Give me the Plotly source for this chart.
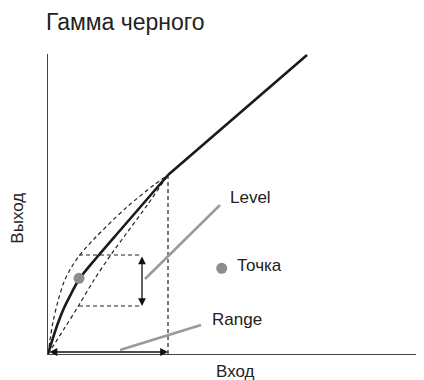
import plotly.graph_objects as go

# ---- data (input / output units, origin at the axes corner) ----
main_curve_x = [0, 4, 10, 16, 23, 31, 50, 75, 120]
main_curve_y = [0, 13, 31, 46, 60, 74.5, 98, 127, 179]
main_line_x = [120, 259]
main_line_y = [179, 299]

upper_x = [0, 2, 5, 10, 16, 23, 31, 47, 79, 106, 120]
upper_y = [0, 14, 32, 53, 72, 86, 98, 116, 147, 169, 179]
lower_x = [0, 16, 31, 46, 62.7, 78, 100, 120]
lower_y = [0, 25, 49, 74, 99, 120, 150, 179]

knee_x = 120
knee_y = 179
box_x = [31, 94]
box_y = [48, 99]
range_y = 2

point_xy = (31, 75.7)
legend_dot_xy = (173.7, 85.7)

level_line_x = [97, 172]
level_line_y = [75, 149]
range_line_x = [72, 153]
range_line_y = [4, 29]

labels = {"level": "Level", "point": "Точка", "range": "Range"}
label_pos = {"level": (180, 157), "point": (187, 88.5), "range": (162, 34.5)}

title_text = "Гамма черного"
x_title = "Вход"
y_title = "Выход"

FONT = "Liberation Sans, Arial, sans-serif"
DASH = "4px,3px"
INK = "#222"

fig = go.Figure()

# dashed variants
for xs, ys in [(upper_x, upper_y), (lower_x, lower_y)]:
    fig.add_trace(go.Scatter(x=xs, y=ys, mode="lines",
                             line=dict(color=INK, width=1.2, dash=DASH, shape="spline", smoothing=0.9),
                             hoverinfo="skip", cliponaxis=False))

# dashed vertical through knee
fig.add_trace(go.Scatter(x=[knee_x, knee_x], y=[0, knee_y], mode="lines",
                         line=dict(color=INK, width=1.2, dash=DASH), cliponaxis=False))
# dashed box edges (top and bottom)
fig.add_trace(go.Scatter(x=[box_x[0], box_x[1]], y=[box_y[1], box_y[1]], mode="lines",
                         line=dict(color=INK, width=1.2, dash=DASH), cliponaxis=False))
fig.add_trace(go.Scatter(x=[box_x[0], box_x[1]], y=[box_y[0], box_y[0]], mode="lines",
                         line=dict(color=INK, width=1.2, dash=DASH), cliponaxis=False))

# main curve
fig.add_trace(go.Scatter(x=main_curve_x, y=main_curve_y, mode="lines",
                         line=dict(color="#1a1a1a", width=2.6, shape="spline", smoothing=1.0), cliponaxis=False))
fig.add_trace(go.Scatter(x=main_line_x, y=main_line_y, mode="lines",
                         line=dict(color="#1a1a1a", width=2.6), cliponaxis=False))

# pointer lines
fig.add_trace(go.Scatter(x=level_line_x, y=level_line_y, mode="lines",
                         line=dict(color="#9a9a9a", width=2.5), cliponaxis=False))
fig.add_trace(go.Scatter(x=range_line_x, y=range_line_y, mode="lines",
                         line=dict(color="#9a9a9a", width=2.5), cliponaxis=False))

# dots
fig.add_trace(go.Scatter(x=[point_xy[0], legend_dot_xy[0]], y=[point_xy[1], legend_dot_xy[1]], mode="markers",
                         marker=dict(color="#8c8c8c", size=11), cliponaxis=False))

# double arrows
arrow_common = dict(xref="x", yref="y", axref="x", ayref="y", showarrow=True, arrowhead=2,
                    arrowside="end+start", arrowsize=1.2, arrowwidth=1.3, arrowcolor="#111", text="")
fig.add_annotation(x=box_x[1], y=box_y[0], ax=box_x[1], ay=box_y[1], **arrow_common)
fig.add_annotation(x=knee_x, y=range_y, ax=0, ay=range_y, **arrow_common)

# labels
for key in ["level", "point", "range"]:
    fig.add_annotation(x=label_pos[key][0], y=label_pos[key][1], text=labels[key], showarrow=False,
                       xanchor="left", yanchor="middle", font=dict(family=FONT, size=17, color=INK))

# titles
fig.add_annotation(xref="paper", yref="paper", x=-0.011, y=1.108, text=title_text, showarrow=False,
                   xanchor="left", yanchor="middle", font=dict(family=FONT, size=23, color=INK))
fig.add_annotation(xref="paper", yref="paper", x=0.498, y=-0.058, text=x_title, showarrow=False,
                   xanchor="center", yanchor="middle", font=dict(family=FONT, size=17, color=INK))
fig.add_annotation(xref="paper", yref="paper", x=-0.081, y=0.453, text=y_title, showarrow=False,
                   textangle=-90, xanchor="center", yanchor="middle", font=dict(family=FONT, size=17, color=INK))

fig.update_layout(
    width=416, height=372,
    margin=dict(l=40, r=0, t=46, b=26, autoexpand=False),
    paper_bgcolor="white", plot_bgcolor="white",
    showlegend=False,
    xaxis=dict(range=[0, 376], showgrid=False, zeroline=False, showticklabels=False, ticks="",
               showline=True, linecolor="#444", linewidth=1.2, fixedrange=True),
    yaxis=dict(range=[0, 300], showgrid=False, zeroline=False, showticklabels=False, ticks="",
               showline=True, linecolor="#444", linewidth=1.2, fixedrange=True),
)

fig.write_html("out.html")
